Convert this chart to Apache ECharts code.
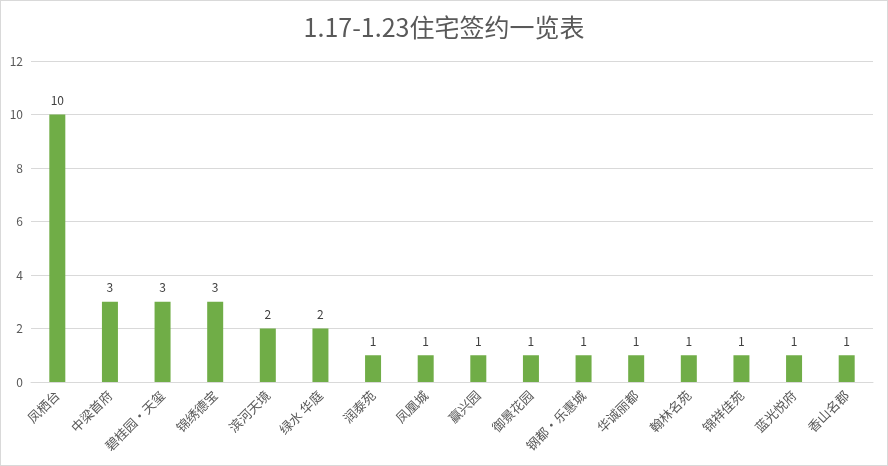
<!DOCTYPE html>
<html><head><meta charset="utf-8">
<script src="https://cdn.jsdelivr.net/npm/echarts@6/dist/echarts.min.js"></script>
<style>html,body{margin:0;padding:0;background:#fff}#c{width:886px;height:464px;border:1px solid #d9d9d9}</style>
</head><body><div id="c"></div>
<script>
const categories = ['凤栖台','中梁首府','碧桂园·天玺','锦绣德宝','滨河天境','绿水 华庭','润泰苑','凤凰城','赢兴园','御景花园','钢都·乐惠城','华诚丽都','翰林名苑','锦祥佳苑','蓝光悦府','香山名郡'];
const values = [10,3,3,3,2,2,1,1,1,1,1,1,1,1,1,1];
const yTicks = [0,2,4,6,8,10,12];
const chart = echarts.init(document.getElementById('c'));
const font = '"Microsoft YaHei","Noto Sans CJK SC",sans-serif';
chart.setOption({
  animation:false,
  title:{text:'1.17-1.23住宅签约一览表',left:'center',top:9,textStyle:{fontFamily:font,fontSize:25,fontWeight:'normal',color:'#595959'}},
  grid:{left:30,right:14,top:60,bottom:83,containLabel:false},
  xAxis:{type:'category',data:categories,
    axisLine:{lineStyle:{color:'#d9d9d9'}},axisTick:{show:false},
    axisLabel:{rotate:45,interval:0,color:'#595959',fontSize:13,fontFamily:font,margin:11}},
  yAxis:{type:'value',min:yTicks[0],max:yTicks[yTicks.length-1],interval:2,
    axisLine:{show:false},axisTick:{show:false},
    splitLine:{lineStyle:{color:'#d9d9d9'}},
    axisLabel:{color:'#595959',fontSize:12,fontFamily:font,margin:8}},
  series:[{type:'bar',data:values,barWidth:16,itemStyle:{color:'#70ad47'},
    label:{show:true,position:'top',color:'#404040',fontSize:12,fontFamily:font,distance:8}}]
});
</script></body></html>
